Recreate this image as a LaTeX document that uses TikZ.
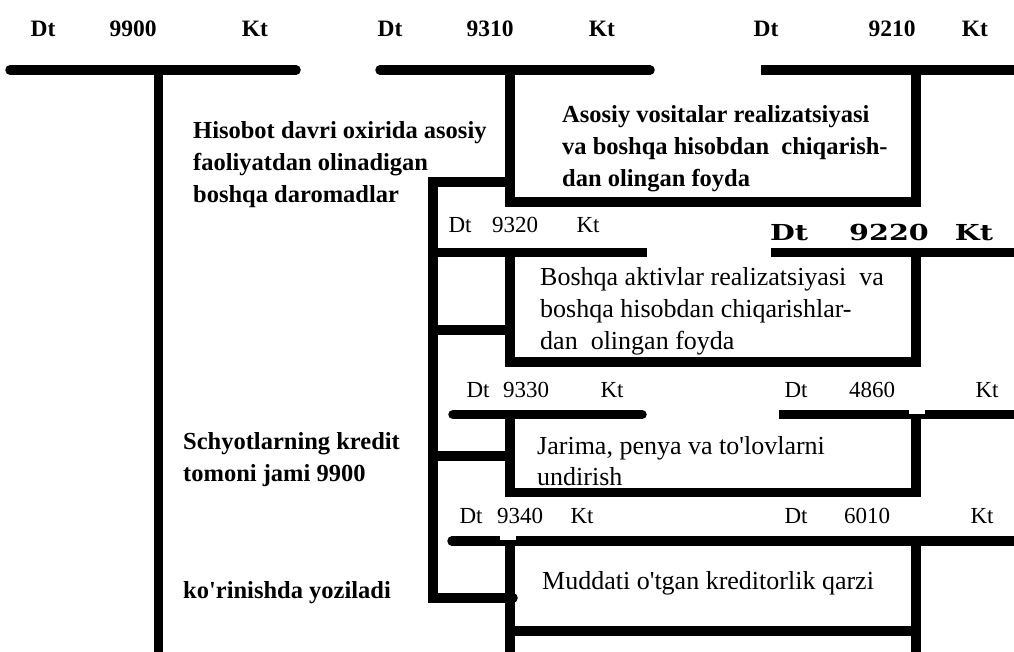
\documentclass[tikz,border=0pt]{standalone}
\usepackage{fontspec}
\setmainfont{Liberation Serif}
\newfontfamily\wideserif{DejaVu Serif}
\newcommand{\sq}{\textquotesingle}
\begin{document}
\begin{tikzpicture}[x=1pt,y=-1pt,
  acc/.style={line width=9.5pt, line join=miter},
  accr/.style={acc, line cap=round},
  lbl/.style={anchor=base, inner sep=0pt, font=\fontsize{23}{28}\selectfont},
  lblb/.style={anchor=base, inner sep=0pt, font=\fontsize{23.5}{28}\selectfont\bfseries},
  lblw/.style={anchor=base, inner sep=0pt, font=\fontsize{22}{26}\selectfont\wideserif\bfseries},
  txt/.style={anchor=base west, inner sep=0pt, font=\fontsize{26}{32}\selectfont},
  txtb/.style={anchor=base west, inner sep=0pt, font=\fontsize{24.5}{32}\selectfont\bfseries}]
\useasboundingbox[fill=white] (0,0) rectangle (1014,652);

% ---- coordinates ----
\coordinate (h9900L) at (10,70);   \coordinate (h9900R) at (296,70);
\coordinate (v9900T) at (158.5,70); \coordinate (v9900B) at (158.5,652);
\coordinate (h9310L) at (380,70);  \coordinate (h9310R) at (650,70);
\coordinate (h9210L) at (761,70);  \coordinate (h9210R) at (1014,70);
\coordinate (b1LT) at (510,70);    \coordinate (b1RB) at (916,202);  \coordinate (b1RT) at (916,70);
\coordinate (brA) at (510,182);    \coordinate (spT) at (433,182);
\coordinate (spB) at (433,598);    \coordinate (brD) at (513,598);
\coordinate (h9320L) at (433,252.5); \coordinate (h9320R) at (647,252.5);
\coordinate (h9220L) at (771,252.5); \coordinate (h9220R) at (1014,252.5);
\coordinate (b2LT) at (510,252.5); \coordinate (b2RB) at (916,362);  \coordinate (b2RT) at (916,252.5);
\coordinate (brB1) at (433,330);   \coordinate (brB2) at (510,330);
\coordinate (h9330L) at (453,414.5); \coordinate (h9330R) at (642,414.5);
\coordinate (h4860L) at (779,414.5); \coordinate (h4860R) at (1014,414.5);
\coordinate (b3LT) at (510,414.5); \coordinate (b3RB) at (916,492.5); \coordinate (b3RT) at (916,414.5);
\coordinate (brC1) at (433,456);   \coordinate (brC2) at (510,456);
\coordinate (h9340L) at (452,541); \coordinate (h9340R) at (1014,541);
\coordinate (b4LT) at (510,541);   \coordinate (b4LB) at (510,652);
\coordinate (b4RT) at (916,541);   \coordinate (b4RB) at (916,652);
\coordinate (b4ML) at (510,631);   \coordinate (b4MR) at (916,631);

% ---- lines ----
\draw[accr] (h9900L) -- (h9900R);
\draw[acc] (v9900T) -- (v9900B);
\draw[accr] (h9310L) -- (h9310R);
\draw[acc] (h9210L) -- (h9210R);
\draw[acc] (b1LT) |- (b1RB) -- (b1RT);
\draw[accr] (brA) -- (spT) -- (spB) -- (brD);
\draw[acc] (h9320L) -- (h9320R);
\draw[acc] (h9220L) -- (h9220R);
\draw[acc] (b2LT) |- (b2RB) -- (b2RT);
\draw[acc] (brB1) -- (brB2);
\draw[accr] (h9330L) -- (h9330R);
\draw[acc] (h4860L) -- (h4860R);
\draw[acc] (b3LT) |- (b3RB) -- (b3RT);
\draw[acc] (brC1) -- (brC2);
\draw[accr] (h9340L) -- (h9340R);
\draw[acc] (b4LT) -- (b4LB);
\draw[acc] (b4RT) -- (b4RB);
\draw[acc] (b4ML) -- (b4MR);
% small white notches on the lines
\fill[white] (909,409.5) rectangle (925,413.5);
\fill[white] (500,536) rectangle (516,540);

% ---- account labels ----
\node[lblb] (d9900) at (43,37) {Dt};
\node[lblb] (n9900) at (133,37) {9900};
\node[lblb] (k9900) at (255,37) {Kt};
\node[lblb] (d9310) at (390,37) {Dt};
\node[lblb] (n9310) at (490,37) {9310};
\node[lblb] (k9310) at (602,37) {Kt};
\node[lblb] (d9210) at (766,37) {Dt};
\node[lblb] (n9210) at (892,37) {9210};
\node[lblb] (k9210) at (975,37) {Kt};

\node[lbl] (d9320) at (460,233) {Dt};
\node[lbl] (n9320) at (515,233) {9320};
\node[lbl] (k9320) at (588,233) {Kt};
\node[lblw] (d9220) at (789,241) {\scalebox{1.3}[1]{Dt}};
\node[lblw] (n9220) at (889,241) {\scalebox{1.3}[1]{9220}};
\node[lblw] (k9220) at (974,241) {\scalebox{1.3}[1]{Kt}};

\node[lbl] (d9330) at (478,397) {Dt};
\node[lbl] (n9330) at (526,397) {9330};
\node[lbl] (k9330) at (612,397) {Kt};
\node[lbl] (d4860) at (796,397) {Dt};
\node[lbl] (n4860) at (872,397) {4860};
\node[lbl] (k4860) at (987,397) {Kt};

\node[lbl] (d9340) at (471,523) {Dt};
\node[lbl] (n9340) at (520,523) {9340};
\node[lbl] (k9340) at (582,523) {Kt};
\node[lbl] (d6010) at (796,523) {Dt};
\node[lbl] (n6010) at (867,523) {6010};
\node[lbl] (k6010) at (982,523) {Kt};

% ---- texts ----
\node[txtb] (hisA) at (193,139) {Hisobot davri oxirida asosiy};
\node[txtb] (hisB) at (193,171) {faoliyatdan olinadigan};
\node[txtb] (hisC) at (193,203) {boshqa daromadlar};

\node[txtb] (asoA) at (562,123) {Asosiy vositalar realizatsiyasi};
\node[txtb] (asoB) at (562,155) {va boshqa hisobdan\ \ chiqarish-};
\node[txtb] (asoC) at (562,187) {dan olingan foyda};

\node[txt] (bosA) at (540,286) {Boshqa aktivlar realizatsiyasi\ \ va};
\node[txt] (bosB) at (540,317) {boshqa hisobdan chiqarishlar-};
\node[txt] (bosC) at (540,349) {dan\ \ olingan foyda};

\node[txt] (jarA) at (537,454) {Jarima, penya va to\sq lovlarni};
\node[txt] (jarB) at (537,485) {undirish};

\node[txt] (mud) at (542,589) {Muddati o\sq tgan kreditorlik qarzi};

\node[txtb] (schA) at (183,449) {Schyotlarning kredit};
\node[txtb] (schB) at (183,481) {tomoni jami 9900};
\node[txtb] (kor) at (183,598) {ko\sq rinishda yoziladi};
\end{tikzpicture}
\end{document}
